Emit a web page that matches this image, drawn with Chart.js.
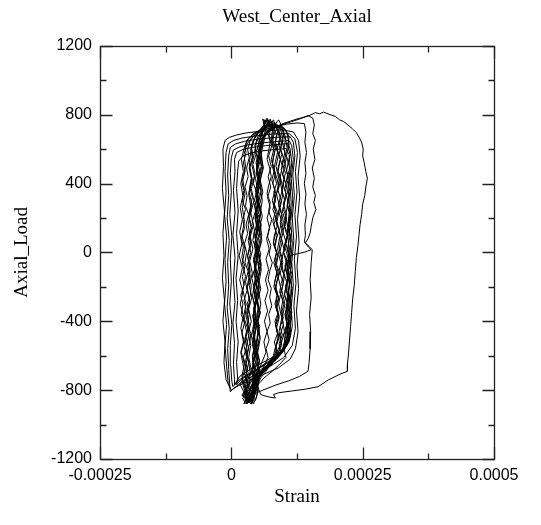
<!DOCTYPE html>
<html>
<head>
<meta charset="utf-8">
<script src="https://cdn.jsdelivr.net/npm/chart.js@4.4.1/dist/chart.umd.min.js"></script>
<style>
  html, body { margin: 0; padding: 0; background: #fff; }
  canvas { display: block; }
</style>
</head>
<body>
<canvas id="axial" width="541" height="525"></canvas>
<script>
// axis ticks
var xTicks = [-0.00025, 0, 0.00025, 0.0005];
var yTicks = [-1200, -800, -400, 0, 400, 800, 1200];
var xMinor = [-0.000125, 0.000125, 0.000375];
var yMinor = [-1000, -600, -200, 200, 600, 1000];

// load cycles: [strain in microstrain, axial load]
var outer01 = [[-2,-790],[-10,-740],[-14,-640],[-12,-520],[-16,-400],[-13,-280],[-17,-150],[-14,-20],[-16,110],[-13,240],[-17,370],[-15,500],[-16,600],[-12,650],[-4,668],[10,682],[30,695],[60,705],[95,712],[118,700],[128,650],[131,560],[127,440],[130,320],[126,190],[129,60],[125,-80],[128,-210],[124,-340],[127,-460],[122,-560],[112,-620],[90,-670],[60,-710],[30,-750],[10,-780],[0,-800]];
var outer02 = [[0,-800],[-6,-760],[-9,-660],[-12,-540],[-9,-420],[-13,-300],[-10,-170],[-12,-40],[-9,90],[-13,220],[-10,350],[-12,470],[-10,580],[-6,630],[4,650],[20,664],[45,676],[80,688],[110,690],[121,660],[126,580],[122,470],[125,350],[121,220],[124,90],[120,-40],[123,-180],[119,-310],[122,-440],[116,-540],[100,-610],[75,-660],[45,-710],[18,-760],[4,-790],[-2,-810]];
var outer03 = [[-2,-810],[-3,-770],[-5,-680],[-7,-560],[-4,-440],[-8,-320],[-5,-190],[-7,-60],[-4,70],[-8,200],[-5,330],[-7,450],[-5,560],[-2,610],[8,630],[25,645],[50,658],[85,668],[112,672],[118,640],[121,560],[117,450],[120,330],[116,200],[119,70],[115,-60],[118,-190],[114,-320],[116,-430],[110,-520],[95,-590],[70,-640],[42,-690],[15,-740],[3,-780]];
var outer04 = [[3,-780],[1,-750],[-1,-660],[-2,-540],[1,-420],[-3,-300],[0,-170],[-2,-40],[1,90],[-3,220],[0,350],[-2,460],[0,550],[4,595],[15,612],[32,625],[58,636],[90,645],[110,650],[115,620],[118,540],[114,430],[117,310],[113,180],[116,50],[112,-80],[115,-210],[111,-340],[113,-450],[106,-530],[90,-590],[66,-630],[40,-670],[16,-720],[6,-770]];
var outer05 = [[6,-770],[6,-740],[4,-650],[6,-530],[3,-410],[7,-290],[4,-160],[7,-30],[3,100],[7,230],[4,360],[7,470],[6,540],[10,580],[22,598],[40,610],[65,620],[92,628],[108,632],[112,600],[115,520],[111,410],[114,290],[110,160],[113,30],[109,-100],[112,-230],[108,-360],[110,-460],[103,-540],[87,-600],[62,-650],[38,-700],[18,-740],[10,-770]];
var outer06 = [[10,-770],[12,-730],[10,-640],[13,-520],[9,-400],[12,-280],[9,-150],[13,-20],[10,110],[13,240],[10,370],[12,470],[14,530],[22,560],[38,578],[60,590],[85,598],[104,603],[110,570],[112,490],[108,380],[111,260],[107,130],[110,0],[106,-130],[109,-260],[105,-390],[107,-480],[99,-560],[80,-620],[55,-670],[32,-720],[16,-760]];

var core01 = [[16,-760],[22,-800],[28,-830],[32,-790],[27,-720],[33,-640],[28,-560],[34,-470],[29,-380],[35,-290],[30,-200],[36,-110],[31,-20],[37,70],[32,160],[38,250],[33,340],[39,430],[34,520],[38,600],[44,660],[52,700],[60,730],[70,745],[78,760],[85,735],[90,700],[96,640],[91,570],[97,500],[92,420],[98,340],[93,260],[99,180],[94,100],[100,20],[95,-60],[101,-140],[96,-220],[102,-300],[97,-380],[101,-460],[94,-540],[88,-600],[74,-650],[58,-700],[44,-740],[36,-790],[30,-810]];
var core02 = [[30,-810],[36,-850],[40,-820],[44,-760],[39,-690],[45,-610],[40,-530],[46,-450],[41,-370],[47,-290],[42,-210],[48,-130],[43,-50],[49,30],[44,110],[50,190],[45,270],[51,350],[46,430],[52,510],[47,580],[53,640],[58,690],[64,720],[70,760],[74,730],[80,770],[84,740],[88,700],[84,640],[90,570],[85,500],[91,420],[86,340],[92,260],[87,180],[93,100],[88,20],[94,-60],[89,-140],[95,-220],[90,-300],[96,-380],[91,-460],[94,-530],[85,-590],[72,-640],[60,-690],[50,-740],[42,-800],[36,-840]];
var core03 = [[36,-840],[30,-870],[26,-830],[31,-770],[25,-700],[30,-620],[24,-540],[29,-460],[23,-380],[28,-300],[22,-220],[27,-140],[21,-60],[26,20],[20,100],[25,180],[21,260],[26,340],[22,420],[27,500],[24,570],[30,630],[40,670],[55,700],[70,720],[86,735],[96,720],[102,680],[106,610],[101,530],[107,450],[102,370],[108,290],[103,210],[109,130],[104,50],[110,-30],[105,-110],[111,-190],[106,-270],[112,-350],[107,-430],[110,-500],[102,-560],[88,-610],[70,-650],[52,-690],[38,-730],[28,-780],[24,-820]];
var core04 = [[24,-820],[32,-860],[38,-880],[44,-830],[48,-760],[45,-690],[50,-620],[46,-550],[51,-480],[47,-410],[52,-340],[48,-270],[53,-200],[49,-130],[54,-60],[50,10],[55,80],[51,150],[56,220],[52,290],[57,360],[53,430],[58,500],[54,570],[59,630],[62,680],[66,720],[63,750],[68,780],[72,745],[76,760],[79,720],[76,660],[81,600],[76,540],[82,480],[77,420],[83,360],[78,300],[84,240],[79,180],[85,120],[80,60],[86,0],[81,-60],[87,-120],[82,-180],[88,-240],[83,-300],[89,-360],[84,-420],[90,-480],[85,-540],[88,-590],[78,-640],[66,-690],[56,-730],[48,-780],[42,-830]];
var core05 = [[42,-830],[36,-800],[34,-740],[38,-680],[33,-610],[37,-540],[32,-470],[38,-400],[33,-330],[39,-260],[34,-190],[40,-120],[35,-50],[41,20],[36,90],[42,160],[37,230],[43,300],[38,370],[44,440],[39,510],[44,580],[48,640],[56,690],[66,725],[76,745],[86,740],[94,710],[98,660],[94,600],[100,540],[95,480],[101,420],[96,360],[102,300],[97,240],[103,180],[98,120],[104,60],[99,0],[105,-60],[100,-120],[106,-180],[101,-240],[107,-300],[102,-360],[106,-420],[100,-480],[103,-540],[94,-590],[80,-630],[64,-670],[50,-710],[40,-760],[34,-810]];
var core06 = [[34,-810],[28,-850],[24,-880],[30,-840],[27,-770],[32,-700],[27,-630],[33,-560],[28,-490],[34,-420],[29,-350],[35,-280],[30,-210],[36,-140],[31,-70],[37,0],[32,70],[38,140],[33,210],[39,280],[34,350],[40,420],[35,490],[41,560],[38,620],[45,670],[54,710],[62,740],[66,770],[71,735],[76,750],[80,700],[77,640],[82,580],[78,520],[84,460],[79,400],[85,340],[80,280],[86,220],[81,160],[87,100],[82,40],[88,-20],[83,-80],[89,-140],[84,-200],[90,-260],[85,-320],[91,-380],[86,-440],[90,-500],[84,-560],[86,-600],[74,-650],[60,-700],[46,-750],[36,-800],[30,-830]];
var core07 = [[30,-830],[40,-860],[46,-820],[52,-760],[48,-700],[53,-630],[48,-560],[54,-490],[49,-420],[55,-350],[50,-280],[56,-210],[51,-140],[57,-70],[52,0],[58,70],[53,140],[59,210],[54,280],[60,350],[55,420],[61,490],[56,560],[60,620],[64,670],[70,705],[80,725],[90,735],[100,725],[106,690],[110,630],[105,560],[111,490],[106,420],[112,350],[107,280],[113,210],[108,140],[114,70],[109,0],[115,-70],[110,-140],[116,-210],[111,-280],[115,-350],[109,-420],[113,-480],[106,-540],[92,-590],[76,-630],[60,-680],[50,-730],[40,-790],[34,-840]];
var core08 = [[34,-840],[40,-870],[44,-850],[40,-780],[45,-710],[40,-640],[46,-570],[41,-500],[47,-430],[42,-360],[48,-290],[43,-220],[49,-150],[44,-80],[50,-10],[45,60],[51,130],[46,200],[52,270],[47,340],[53,410],[48,480],[54,550],[50,610],[55,660],[58,700],[62,740],[60,775],[65,750],[70,770],[76,730],[72,680],[77,620],[71,560],[76,500],[70,440],[75,380],[69,320],[74,260],[68,200],[73,140],[67,80],[72,20],[66,-40],[71,-100],[65,-160],[70,-220],[64,-280],[69,-340],[63,-400],[68,-460],[62,-520],[66,-580],[58,-640],[50,-700],[46,-760],[40,-820],[36,-860]];
var core09 = [[36,-860],[28,-880],[22,-850],[26,-790],[20,-720],[25,-650],[19,-580],[24,-510],[18,-440],[23,-370],[17,-300],[22,-230],[16,-160],[21,-90],[15,-20],[20,50],[16,120],[21,190],[17,260],[22,330],[18,400],[23,470],[19,540],[24,600],[30,650],[42,690],[56,715],[70,730],[82,740],[88,710],[92,660],[87,600],[93,540],[88,480],[94,420],[89,360],[95,300],[90,240],[96,180],[91,120],[97,60],[92,0],[98,-60],[93,-120],[99,-180],[94,-240],[100,-300],[95,-360],[99,-420],[93,-480],[96,-540],[86,-600],[70,-650],[52,-700],[36,-750],[26,-800],[20,-830]];
var core10 = [[20,-830],[30,-850],[38,-870],[44,-820],[40,-750],[45,-680],[40,-610],[46,-540],[41,-470],[47,-400],[42,-330],[48,-260],[43,-190],[49,-120],[44,-50],[50,20],[45,90],[51,160],[46,230],[52,300],[47,370],[53,440],[48,510],[54,580],[52,640],[58,690],[66,725],[74,760],[82,740],[90,770],[96,735],[100,700],[97,640],[102,580],[97,520],[103,460],[98,400],[104,340],[99,280],[105,220],[100,160],[106,100],[101,40],[107,-20],[102,-80],[108,-140],[103,-200],[109,-260],[104,-320],[110,-380],[105,-440],[108,-500],[100,-560],[104,-610],[92,-650],[78,-690],[62,-730],[50,-770],[44,-820],[40,-850]];

var excursion1 = [[40,-850],[46,-800],[42,-720],[47,-620],[43,-520],[48,-420],[44,-320],[49,-220],[45,-120],[50,-20],[46,80],[51,180],[47,280],[52,380],[48,480],[53,570],[56,640],[64,690],[80,725],[100,750],[125,775],[145,790],[160,812],[168,805],[176,815],[188,800],[198,790],[206,770],[214,760],[222,740],[230,720],[238,695],[243,670],[248,640],[251,600],[250,560],[253,520],[256,470],[259,430],[256,380],[254,330],[250,280],[248,220],[245,160],[243,100],[241,40],[238,-30],[236,-110],[234,-190],[231,-270],[229,-350],[227,-430],[225,-510],[223,-590],[221,-650],[221,-690],[205,-710],[185,-740],[165,-780],[140,-795],[115,-805],[90,-815],[80,-826],[84,-846],[72,-840],[62,-832],[56,-826]];
var excursion2 = [[56,-826],[50,-780],[54,-700],[49,-600],[55,-500],[50,-400],[56,-300],[51,-200],[57,-100],[52,0],[58,100],[53,200],[59,300],[54,400],[60,500],[56,600],[62,670],[75,710],[95,740],[115,760],[130,775],[146,795],[155,780],[158,740],[155,690],[160,650],[156,600],[159,540],[154,490],[158,430],[155,380],[160,330],[157,290],[161,250],[155,200],[152,150],[150,113],[146,80],[141,55],[148,35],[154,15],[152,-60],[150,-160],[152,-260],[149,-360],[151,-460],[150,-560],[148,-640],[146,-690],[130,-720],[110,-745],[85,-770],[60,-800],[45,-820]];
var excursion3 = [[45,-820],[41,-760],[45,-680],[40,-600],[46,-520],[41,-440],[47,-360],[42,-280],[48,-200],[43,-120],[49,-40],[44,40],[50,120],[45,200],[51,280],[46,360],[52,440],[47,520],[53,600],[58,660],[68,705],[85,730],[105,745],[125,752],[139,748],[142,700],[140,640],[143,580],[140,520],[142,460],[139,400],[142,340],[140,280],[143,220],[140,160],[141,100],[139,60],[147,30],[152,15],[140,2],[126,-8],[114,-16],[106,-50],[109,-120],[104,-200],[108,-280],[103,-360],[107,-440],[101,-520],[96,-580],[82,-630],[66,-680],[52,-730],[42,-790],[36,-840]];

var core11 = [[36,-840],[31,-870],[35,-810],[30,-750],[36,-700],[33,-640],[29,-590],[35,-530],[37,-470],[31,-420],[34,-360],[30,-300],[36,-250],[38,-190],[32,-130],[35,-80],[31,-20],[37,40],[34,90],[39,150],[33,210],[36,260],[40,320],[35,380],[38,430],[34,490],[40,550],[37,600],[42,650],[50,690],[58,720],[64,750],[70,740],[74,775],[78,740],[82,700],[79,650],[84,600],[80,550],[78,500],[83,450],[86,400],[81,350],[84,300],[79,250],[85,200],[87,150],[82,100],[80,50],[86,0],[83,-50],[88,-100],[84,-150],[81,-200],[87,-250],[85,-300],[89,-350],[83,-400],[86,-450],[90,-500],[84,-550],[80,-600],[70,-650],[58,-700],[46,-750],[40,-800],[34,-850]];
var core12 = [[34,-850],[42,-880],[48,-840],[52,-790],[46,-740],[50,-680],[54,-630],[49,-570],[47,-520],[53,-460],[50,-400],[55,-350],[49,-290],[52,-240],[48,-180],[54,-120],[51,-70],[56,-10],[50,50],[53,100],[57,160],[51,220],[54,270],[49,330],[55,390],[52,440],[57,500],[53,560],[56,610],[60,660],[68,700],[76,730],[84,750],[92,730],[98,700],[103,650],[100,600],[105,550],[101,500],[98,450],[104,400],[107,350],[102,300],[99,250],[105,200],[102,150],[108,100],[103,50],[100,0],[106,-50],[103,-100],[109,-150],[104,-200],[101,-250],[107,-300],[104,-350],[108,-400],[102,-450],[105,-500],[99,-550],[92,-600],[80,-640],[66,-680],[54,-720],[46,-770],[40,-820],[36,-860]];
var core13 = [[36,-860],[30,-880],[26,-850],[29,-800],[24,-760],[30,-720],[27,-660],[23,-610],[29,-550],[26,-500],[31,-440],[25,-390],[28,-330],[24,-280],[30,-220],[27,-170],[32,-110],[26,-60],[29,0],[25,50],[31,110],[28,160],[33,220],[27,270],[30,330],[26,380],[32,440],[29,490],[34,550],[31,600],[36,650],[46,690],[60,715],[74,735],[84,745],[90,715],[94,670],[91,620],[96,570],[92,520],[89,470],[95,420],[98,370],[93,320],[90,270],[96,220],[93,170],[99,120],[94,70],[91,20],[97,-30],[94,-80],[100,-130],[95,-180],[92,-230],[98,-280],[95,-330],[99,-380],[93,-430],[97,-480],[91,-530],[94,-580],[84,-620],[70,-660],[56,-700],[44,-740],[36,-790],[30,-840]];
var core14 = [[30,-840],[36,-870],[42,-850],[40,-800],[44,-750],[39,-700],[42,-640],[46,-590],[41,-530],[38,-480],[44,-420],[41,-370],[46,-310],[40,-260],[43,-200],[39,-150],[45,-90],[42,-40],[47,20],[41,70],[44,130],[40,180],[46,240],[43,290],[48,350],[42,400],[45,460],[41,510],[47,570],[45,620],[50,670],[58,705],[66,735],[72,760],[78,745],[82,720],[86,680],[83,630],[88,580],[84,530],[81,480],[87,430],[90,380],[85,330],[82,280],[88,230],[85,180],[91,130],[86,80],[83,30],[89,-20],[86,-70],[92,-120],[87,-170],[84,-220],[90,-270],[87,-320],[91,-370],[85,-420],[88,-470],[82,-520],[86,-570],[78,-620],[66,-670],[54,-720],[46,-770],[40,-820],[34,-860]];
var core15 = [[34,-860],[28,-840],[24,-790],[20,-740],[25,-690],[21,-630],[18,-580],[23,-520],[20,-470],[25,-410],[19,-360],[22,-300],[18,-250],[24,-190],[21,-140],[26,-80],[20,-30],[23,30],[19,80],[25,140],[22,190],[27,250],[21,300],[24,360],[20,410],[26,470],[23,520],[28,580],[26,620],[32,660],[44,690],[60,710],[78,725],[94,730],[104,710],[110,670],[107,620],[112,570],[108,520],[105,470],[111,420],[114,370],[109,320],[106,270],[112,220],[109,170],[115,120],[110,70],[107,20],[113,-30],[110,-80],[116,-130],[111,-180],[108,-230],[114,-280],[111,-330],[115,-380],[109,-430],[112,-480],[106,-530],[98,-580],[86,-620],[70,-660],[54,-700],[40,-740],[30,-790],[24,-830]];
var core16 = [[24,-830],[30,-860],[38,-880],[46,-860],[50,-810],[48,-760],[53,-710],[50,-650],[47,-600],[52,-540],[49,-490],[54,-430],[48,-380],[51,-320],[47,-270],[53,-210],[50,-160],[55,-100],[49,-50],[52,10],[48,60],[54,120],[51,170],[56,230],[50,280],[53,340],[49,390],[55,450],[52,500],[57,560],[54,610],[58,660],[60,700],[64,740],[62,770],[68,760],[72,735],[70,690],[74,640],[71,590],[68,540],[73,490],[76,440],[71,390],[68,340],[74,290],[71,240],[77,190],[72,140],[69,90],[75,40],[72,-10],[78,-60],[73,-110],[70,-160],[76,-210],[73,-260],[77,-310],[71,-360],[74,-410],[68,-460],[72,-510],[66,-560],[70,-610],[62,-660],[56,-710],[50,-760],[44,-810],[38,-850]];

var cycles = [outer01, outer02, outer03, outer04, outer05, outer06,
  core01, core02, core03, core04, core05, core06, core07, core08, core09, core10,
  excursion1, excursion2, excursion3,
  core11, core12, core13, core14, core15, core16];

var trace = [];
cycles.forEach(function(c) {
  c.forEach(function(p) { trace.push({x: p[0] * 1e-6, y: p[1]}); });
});

var sansFont = {family: '"Liberation Sans", Arial, sans-serif', size: 16};
var serifFont = {family: '"Liberation Serif", "Times New Roman", serif', size: 19, weight: 'normal'};

// box frame with inward major/minor ticks on all four sides
var frameTicks = {
  id: 'frameTicks',
  afterDraw: function(chart) {
    var ctx = chart.ctx, a = chart.chartArea;
    var xs = chart.scales.x, ys = chart.scales.y;
    var L = Math.round(a.left) + 0.5, R = Math.round(a.right) + 0.5;
    var T = Math.round(a.top) + 0.5, B = Math.round(a.bottom) + 0.5;
    ctx.save();
    ctx.strokeStyle = '#222';
    ctx.lineWidth = 1.3;
    ctx.strokeRect(L, T, R - L, B - T);
    ctx.beginPath();
    function xt(v, len) {
      var px = Math.round(xs.getPixelForValue(v)) + 0.5;
      ctx.moveTo(px, B); ctx.lineTo(px, B - len);
      ctx.moveTo(px, T); ctx.lineTo(px, T + len);
    }
    function yt(v, len) {
      var py = Math.round(ys.getPixelForValue(v)) + 0.5;
      ctx.moveTo(L, py); ctx.lineTo(L + len, py);
      ctx.moveTo(R, py); ctx.lineTo(R - len, py);
    }
    xTicks.forEach(function(v) { xt(v, 12); });
    xMinor.forEach(function(v) { xt(v, 6); });
    yTicks.forEach(function(v) { yt(v, 12); });
    yMinor.forEach(function(v) { yt(v, 6); });
    ctx.stroke();
    ctx.restore();
  }
};

new Chart(document.getElementById('axial'), {
  type: 'scatter',
  data: {
    datasets: [{
      data: trace,
      showLine: true,
      borderColor: '#000',
      borderWidth: 1,
      pointRadius: 0,
      tension: 0
    }]
  },
  options: {
    responsive: false,
    animation: false,
    devicePixelRatio: 1,
    layout: {padding: {left: 0, right: 47, top: 0, bottom: 0}},
    plugins: {
      legend: {display: false},
      tooltip: {enabled: false},
      title: {
        display: true,
        fullSize: false,
        text: 'West_Center_Axial',
        color: '#000',
        font: serifFont,
        padding: {top: 6, bottom: 17}
      }
    },
    scales: {
      x: {
        type: 'linear',
        min: -0.00025,
        max: 0.0005,
        grid: {display: false, drawTicks: false},
        border: {display: false},
        afterBuildTicks: function(s) { s.ticks = xTicks.map(function(v) { return {value: v}; }); },
        afterFit: function(s) { s.height = 66; },
        ticks: {
          color: '#000',
          font: sansFont,
          padding: 7,
          maxRotation: 0,
          autoSkip: false,
          callback: function(v) { return String(Number(v.toPrecision(6))); }
        },
        title: {display: true, text: 'Strain', color: '#000', font: serifFont, padding: {top: 0, bottom: 17}}
      },
      y: {
        type: 'linear',
        min: -1200,
        max: 1200,
        grid: {display: false, drawTicks: false},
        border: {display: false},
        afterBuildTicks: function(s) { s.ticks = yTicks.map(function(v) { return {value: v}; }); },
        afterFit: function(s) { s.width = 100; },
        ticks: {
          color: '#000',
          font: sansFont,
          padding: 8,
          autoSkip: false,
          callback: function(v) { return String(v); }
        },
        title: {display: true, text: 'Axial_Load', color: '#000', font: serifFont, padding: {top: 11, bottom: 0}}
      }
    }
  },
  plugins: [frameTicks]
});
</script>
</body>
</html>
